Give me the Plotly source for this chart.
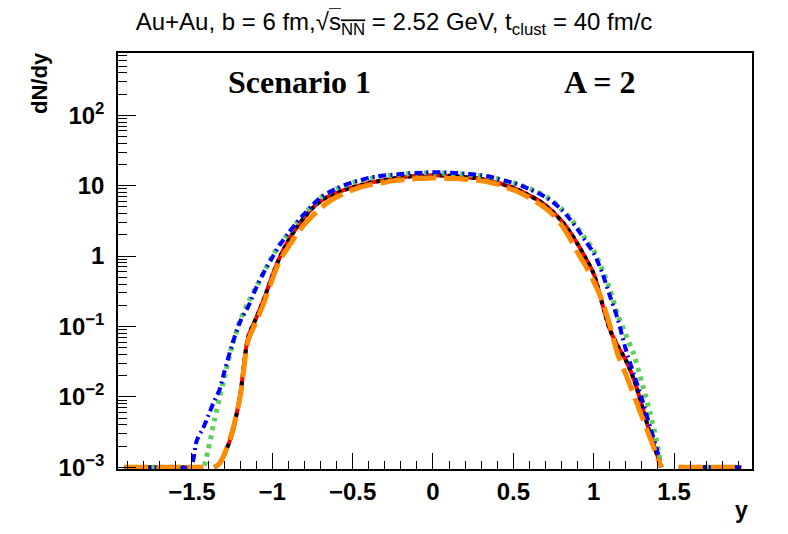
import plotly.graph_objects as go

# rapidity grid (shared by all series); None in a series = no drawn value
rapidity = [-1.92, -1.80, -1.70, -1.60, -1.51, -1.47, -1.43, -1.40, -1.36, -1.33,
            -1.30, -1.25, -1.20, -1.15, -1.10, -1.05, -1.00, -0.95, -0.90, -0.85,
            -0.80, -0.75, -0.70, -0.65, -0.60, -0.55, -0.50, -0.45, -0.40, -0.35,
            -0.30, -0.25, -0.20, -0.15, -0.10, -0.05, 0.00, 0.05, 0.10, 0.15,
            0.20, 0.25, 0.30, 0.35, 0.40, 0.45, 0.50, 0.55, 0.60, 0.65,
            0.70, 0.75, 0.80, 0.85, 0.90, 0.95, 1.00, 1.05, 1.10, 1.15,
            1.20, 1.25, 1.30, 1.35, 1.40, 1.42, 1.47, 1.53, 1.60, 1.70,
            1.80, 1.92]

red_dndy = [0.001, 0.001, 0.001, 0.001, 0.001, 0.001, 0.001, None, 0.001, 0.00112,
            0.00148, 0.00302, 0.0105, 0.0708, 0.132, 0.251, 0.525, 1.0, 1.66, 2.51,
            3.55, 4.79, 6.03, 7.08, 7.94, 8.71, 9.55, 10.2, 11.0, 11.5,
            12.0, 12.6, 13.2, 13.5, 13.8, 14.0, 14.1, 14.0, 13.8, 13.5,
            13.2, 12.9, 12.6, 11.7, 11.0, 10.2, 9.33, 8.32, 7.24, 6.31,
            5.25, 4.17, 3.16, 2.24, 1.48, 0.933, 0.562, 0.224, 0.0912, 0.0525,
            0.0331, 0.0178, 0.00759, 0.00302, 0.00138, 0.001, None, 0.001, 0.001, 0.001,
            0.001, 0.001]

black_dndy = [0.001, 0.001, 0.001, 0.001, 0.001, 0.001, 0.001, None, 0.001, 0.00112,
              0.00148, 0.00302, 0.0105, 0.0708, 0.132, 0.251, 0.525, 1.0, 1.66, 2.51,
              3.55, 4.79, 6.03, 7.08, 7.94, 8.71, 9.55, 10.2, 11.0, 11.5,
              12.0, 12.6, 13.2, 13.5, 13.8, 14.0, 14.1, 14.0, 13.8, 13.5,
              13.2, 12.9, 12.6, 11.7, 11.0, 10.2, 9.33, 8.32, 7.24, 6.31,
              5.25, 4.17, 3.16, 2.24, 1.48, 0.933, 0.562, 0.224, 0.0912, 0.0525,
              0.0331, 0.0178, 0.00759, 0.00302, 0.00138, 0.001, None, 0.001, 0.001, 0.001,
              0.001, 0.001]

green_dndy = [0.001, 0.001, 0.001, 0.001, 0.001, 0.001, 0.001, 0.00174, 0.00468, 0.00933,
              0.0182, 0.0525, 0.120, 0.219, 0.363, 0.603, 1.0, 1.51, 2.09, 2.95,
              3.98, 5.25, 6.76, 7.94, 9.12, 10.0, 11.0, 11.7, 12.6, 13.2,
              13.8, 14.1, 14.5, 14.8, 15.0, 15.1, 15.1, 15.1, 15.0, 14.8,
              14.5, 14.1, 13.8, 13.2, 12.6, 11.7, 11.0, 10.0, 9.12, 8.13,
              7.08, 5.89, 4.68, 3.55, 2.51, 1.74, 1.20, 0.676, 0.339, 0.145,
              0.0759, 0.0398, 0.0158, 0.00603, 0.00191, 0.001, None, 0.001, 0.001, 0.001,
              0.001, 0.001]

blue_dndy = [0.001, 0.001, 0.001, 0.001, 0.001, 0.0024, 0.00363, 0.00525, 0.00891, 0.0123,
             0.0219, 0.0550, 0.117, 0.191, 0.355, 0.603, 0.955, 1.48, 2.09, 2.95,
             3.98, 5.25, 6.76, 7.94, 9.12, 10.2, 11.2, 12.0, 12.9, 13.5,
             14.0, 14.3, 14.6, 15.0, 15.1, 15.3, 15.5, 15.5, 15.3, 15.1,
             14.8, 14.5, 14.1, 13.5, 12.6, 11.7, 11.0, 10.0, 8.91, 7.94,
             6.92, 5.75, 4.57, 3.39, 2.40, 1.62, 1.10, 0.603, 0.275, 0.126,
             0.0468, 0.0209, 0.00933, 0.0038, 0.00158, 0.001, None, 0.001, 0.001, 0.001,
             0.001, 0.001]

orange_dndy = [0.001, 0.001, 0.001, 0.001, 0.001, 0.001, 0.001, None, 0.001, 0.00112,
               0.00151, 0.00316, 0.0100, 0.0631, 0.117, 0.224, 0.468, 0.891, 1.35, 2.00,
               2.82, 3.72, 4.79, 5.89, 6.92, 7.76, 8.71, 9.55, 10.2, 10.7,
               11.2, 11.7, 12.0, 12.3, 12.6, 12.7, 12.9, 12.9, 12.7, 12.6,
               12.3, 12.0, 11.7, 11.2, 10.5, 9.55, 8.71, 7.76, 6.76, 5.75,
               4.79, 3.80, 2.75, 1.82, 1.12, 0.724, 0.437, 0.240, 0.105, 0.0398,
               0.0209, 0.0105, 0.00525, 0.00263, 0.00132, 0.001, None, 0.001, 0.001, 0.001,
               0.001, 0.001]

x_tick_vals = [-1.5, -1.0, -0.5, 0.0, 0.5, 1.0, 1.5]
x_tick_text = ["\u22121.5", "\u22121", "\u22120.5", "0", "0.5", "1", "1.5"]
y_tick_vals = [1e-3, 1e-2, 1e-1, 1, 10, 100]
y_tick_text = ["10<sup>\u22123</sup>", "10<sup>\u22122</sup>", "10<sup>\u22121</sup>",
               "1", "10", "10<sup>2</sup>"]

series = [
    (red_dndy, dict(color="#ff0000", width=4, dash="solid")),
    (black_dndy, dict(color="#000000", width=4, dash="4px,4px")),
    (green_dndy, dict(color="#5ccf5c", width=5, dash="4px,5px")),
    (blue_dndy, dict(color="#0000ff", width=4, dash="8px,4px,2px,4px")),
    (orange_dndy, dict(color="#ff8c00", width=5, dash="24px,8px")),
]

fig = go.Figure()
for vals, line in series:
    fig.add_trace(go.Scatter(x=rapidity, y=vals, mode="lines",
                             line=dict(shape="spline", smoothing=0.8, **line),
                             connectgaps=False, showlegend=False, hoverinfo="skip"))

tick_font = dict(family="Liberation Sans", size=24, color="black", weight="bold")

W, H = 772, 518   # page body keeps an 8px margin, so the figure is drawn 8px in
fig.update_layout(
    width=W, height=H,
    margin=dict(l=110, r=28, t=45, b=57),
    paper_bgcolor="white", plot_bgcolor="white",
    title=dict(
        text="Au+Au, b = 6 fm,\u221a<span style=\"text-decoration:overline\">s</span>"
             "<sub><span style=\"text-decoration:overline\">NN</span></sub>"
             " = 2.52 GeV, t<sub>clust</sub> = 40 fm/c",
        x=0.5, xref="container", xanchor="center",
        y=1 - 14 / H, yref="container", yanchor="middle",
        font=dict(family="Liberation Sans", size=24, color="black"),
    ),
    xaxis=dict(
        range=[-1.96, 1.985], tickmode="array", tickvals=x_tick_vals, ticktext=x_tick_text,
        ticks="inside", ticklen=16, tickwidth=1.3, tickcolor="black",
        minor=dict(dtick=0.1, tick0=0, ticks="inside", ticklen=8, tickwidth=1.3, tickcolor="black"),
        showline=True, linecolor="black", linewidth=1.5, mirror=True,
        showgrid=False, zeroline=False, tickfont=tick_font, ticklabelstandoff=0,
    ),
    yaxis=dict(
        type="log", range=[-3.025, 2.885], tickmode="array", tickvals=y_tick_vals,
        ticktext=y_tick_text,
        ticks="inside", ticklen=18, tickwidth=1.3, tickcolor="black",
        minor=dict(dtick="D1", ticks="inside", ticklen=9, tickwidth=1.3, tickcolor="black"),
        showline=True, linecolor="black", linewidth=1.5, mirror=True,
        showgrid=False, zeroline=False, tickfont=tick_font, ticklabelstandoff=7,
    ),
)

fig.add_annotation(text="<b>Scenario 1</b>", xref="paper", yref="paper",
                   x=0.287, y=0.93, xanchor="center", yanchor="middle", showarrow=False,
                   font=dict(family="Liberation Serif", size=32, color="black"))
fig.add_annotation(text="<b>A = 2</b>", xref="paper", yref="paper",
                   x=0.760, y=0.93, xanchor="center", yanchor="middle", showarrow=False,
                   font=dict(family="Liberation Serif", size=32, color="black"))
fig.add_annotation(text="<b>dN/dy</b>", xref="paper", yref="paper",
                   x=(40 - 118) / 634, y=(469 - 83) / 416, textangle=-90,
                   xanchor="center", yanchor="middle", showarrow=False,
                   font=dict(family="Liberation Sans", size=22, color="black"))
fig.add_annotation(text="<b>y</b>", xref="paper", yref="paper",
                   x=(741 - 118) / 634, y=(469 - 510) / 416,
                   xanchor="center", yanchor="middle", showarrow=False,
                   font=dict(family="Liberation Sans", size=23, color="black"))

fig.write_html("out.html")
